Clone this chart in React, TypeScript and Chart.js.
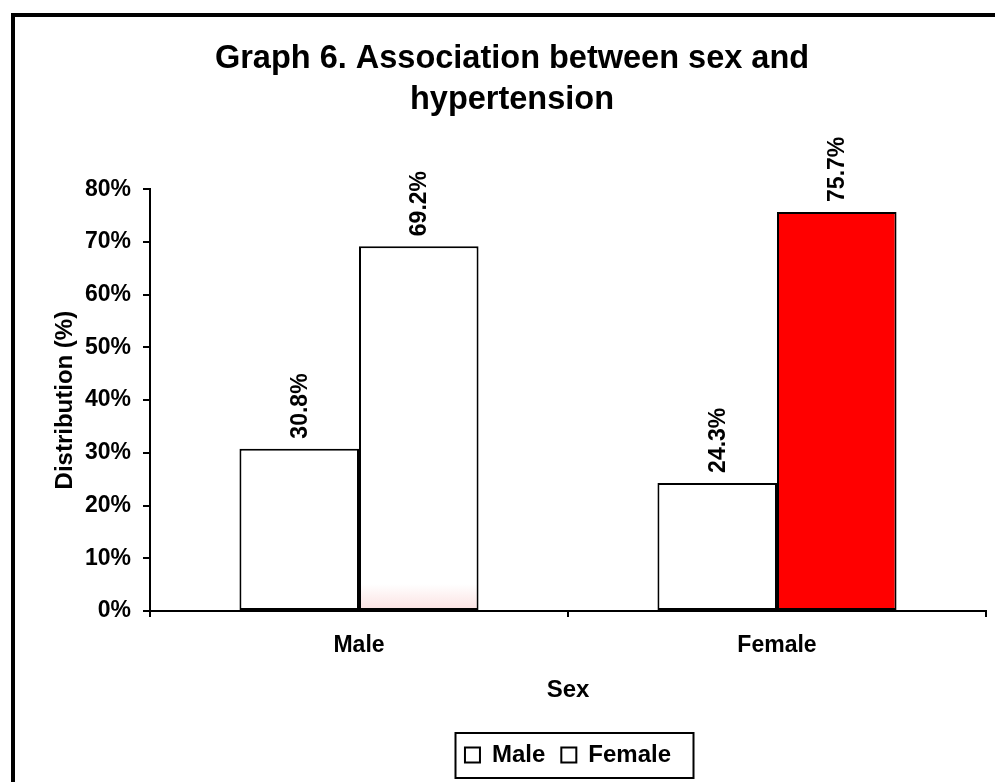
import React, { useEffect, useRef } from "react";
import { Chart, registerables } from "chart.js";

Chart.register(...registerables);

// Sex groups on the x axis
const categories = ["Male", "Female"];
// Series shown in the legend
const seriesNames = ["Male", "Female"];
// Distribution (%) for each series, per sex group
const maleValues = [30.8, 24.3];
const femaleValues = [69.2, 75.7];
// Y axis range and step (%)
const yMin = 0;
const yMax = 80;
const yStep = 10;

const FONT = "'Liberation Sans', Arial, Helvetica, sans-serif";

// Rotated value labels above each bar
const barValueLabels = {
  id: "barValueLabels",
  afterDatasetsDraw(chart: any) {
    const { ctx } = chart;
    ctx.save();
    ctx.fillStyle = "#000";
    ctx.font = `bold 23px ${FONT}`;
    ctx.textAlign = "left";
    ctx.textBaseline = "middle";
    chart.data.datasets.forEach((ds: any, di: number) => {
      const meta = chart.getDatasetMeta(di);
      meta.data.forEach((bar: any, i: number) => {
        const v = ds.data[i];
        ctx.save();
        ctx.translate(bar.x, bar.y - 10);
        ctx.rotate(-Math.PI / 2);
        ctx.fillText(`${v.toFixed(1)}%`, 0, 1);
        ctx.restore();
      });
    });
    ctx.restore();
  },
};

// Frame drawn around the legend items
const legendFrame = {
  id: "legendFrame",
  afterDraw(chart: any) {
    const legend = chart.legend;
    if (!legend || !legend.legendHitBoxes || !legend.legendHitBoxes.length) return;
    const boxes = legend.legendHitBoxes;
    const first = boxes[0];
    const last = boxes[boxes.length - 1];
    const cy = first.top + first.height / 2;
    const left = first.left - 10;
    const right = last.left + last.width + 22;
    const { ctx } = chart;
    ctx.save();
    ctx.strokeStyle = "#000";
    ctx.lineWidth = 2;
    ctx.strokeRect(Math.round(left) + 0.5, Math.round(cy - 22.5), Math.round(right - left), 45);
    ctx.restore();
  },
};

export default function App() {
  const canvasRef = useRef<HTMLCanvasElement | null>(null);

  useEffect(() => {
    if (!canvasRef.current) return;
    Chart.defaults.font.family = FONT;
    Chart.defaults.color = "#000";

    const femaleFill = (c: any) => {
      if (c.type !== "data") return "#ffffff";
      if (c.dataIndex === 1) return "#ff0000";
      const area = c.chart.chartArea;
      if (!area) return "#ffffff";
      const g = c.chart.ctx.createLinearGradient(0, area.bottom - 27, 0, area.bottom);
      g.addColorStop(0, "#ffffff");
      g.addColorStop(1, "#fbe0e0");
      return g;
    };

    const chart = new Chart(canvasRef.current, {
      type: "bar",
      data: {
        labels: categories,
        datasets: [
          {
            label: seriesNames[0],
            data: maleValues,
            backgroundColor: "#ffffff",
            borderColor: "#000000",
            borderWidth: 2,
            borderSkipped: false,
          },
          {
            label: seriesNames[1],
            data: femaleValues,
            backgroundColor: femaleFill,
            borderColor: "#000000",
            borderWidth: 2,
            borderSkipped: false,
          },
        ],
      },
      options: {
        responsive: false,
        animation: false,
        events: [],
        datasets: {
          bar: { categoryPercentage: 0.572, barPercentage: 1 },
        },
        layout: { padding: { left: 23, right: 23, top: 0, bottom: 5 } },
        plugins: {
          title: {
            display: true,
            text: ["Graph 6. Association between sex and", "hypertension"],
            color: "#000",
            font: { size: 32.5, weight: "bold", lineHeight: 1.25 },
            padding: { top: 22, bottom: 69 },
          },
          legend: {
            display: true,
            position: "bottom",
            fullSize: false,
            labels: {
              color: "#000",
              font: { size: 24, weight: "bold" },
              boxWidth: 15,
              boxHeight: 15,
              padding: 16,
              generateLabels: (chart: any) =>
                chart.data.datasets.map((ds: any, i: number) => ({
                  text: ds.label,
                  fillStyle: "#ffffff",
                  strokeStyle: "#000000",
                  lineWidth: 2,
                  hidden: false,
                  datasetIndex: i,
                  fontColor: "#000",
                })),
            },
          },
          tooltip: { enabled: false },
        },
        scales: {
          x: {
            type: "category",
            offset: true,
            grid: {
              display: true,
              offset: true,
              drawOnChartArea: false,
              drawTicks: true,
              tickLength: 6,
              color: "#000",
              lineWidth: 2,
            },
            border: { display: true, color: "#000", width: 2 },
            ticks: {
              color: "#000",
              font: { size: 23, weight: "bold" },
              padding: 15,
              maxRotation: 0,
            },
            title: {
              display: true,
              text: "Sex",
              color: "#000",
              font: { size: 24, weight: "bold" },
              padding: { top: 15, bottom: 22 },
            },
            afterFit: (scale: any) => {
              scale.height = 116;
            },
          },
          y: {
            min: yMin,
            max: yMax,
            grid: {
              display: true,
              drawOnChartArea: false,
              drawTicks: true,
              tickLength: 7,
              color: "#000",
              lineWidth: 2,
            },
            border: { display: true, color: "#000", width: 2 },
            ticks: {
              stepSize: yStep,
              color: "#000",
              font: { size: 23, weight: "bold" },
              padding: 12,
              callback: (v: any) => `${v}%`,
            },
            title: {
              display: true,
              text: "Distribution (%)",
              color: "#000",
              font: { size: 24, weight: "bold" },
              padding: { top: 13, bottom: 4 },
            },
            afterFit: (scale: any) => {
              scale.width = 112;
            },
          },
        },
      },
      plugins: [barValueLabels, legendFrame],
    });

    return () => chart.destroy();
  }, []);

  return (
    <div
      style={{
        position: "absolute",
        left: 0,
        top: 0,
        width: 995,
        height: 782,
        overflow: "hidden",
        background: "#fff",
      }}
    >
      <div
        style={{
          position: "absolute",
          left: 11,
          top: 13,
          width: 994,
          height: 800,
          border: "4px solid #000",
          background: "#fff",
        }}
      >
        <canvas
          ref={canvasRef}
          width={994}
          height={765}
          style={{ display: "block", width: 994, height: 765 }}
        />
      </div>
    </div>
  );
}
